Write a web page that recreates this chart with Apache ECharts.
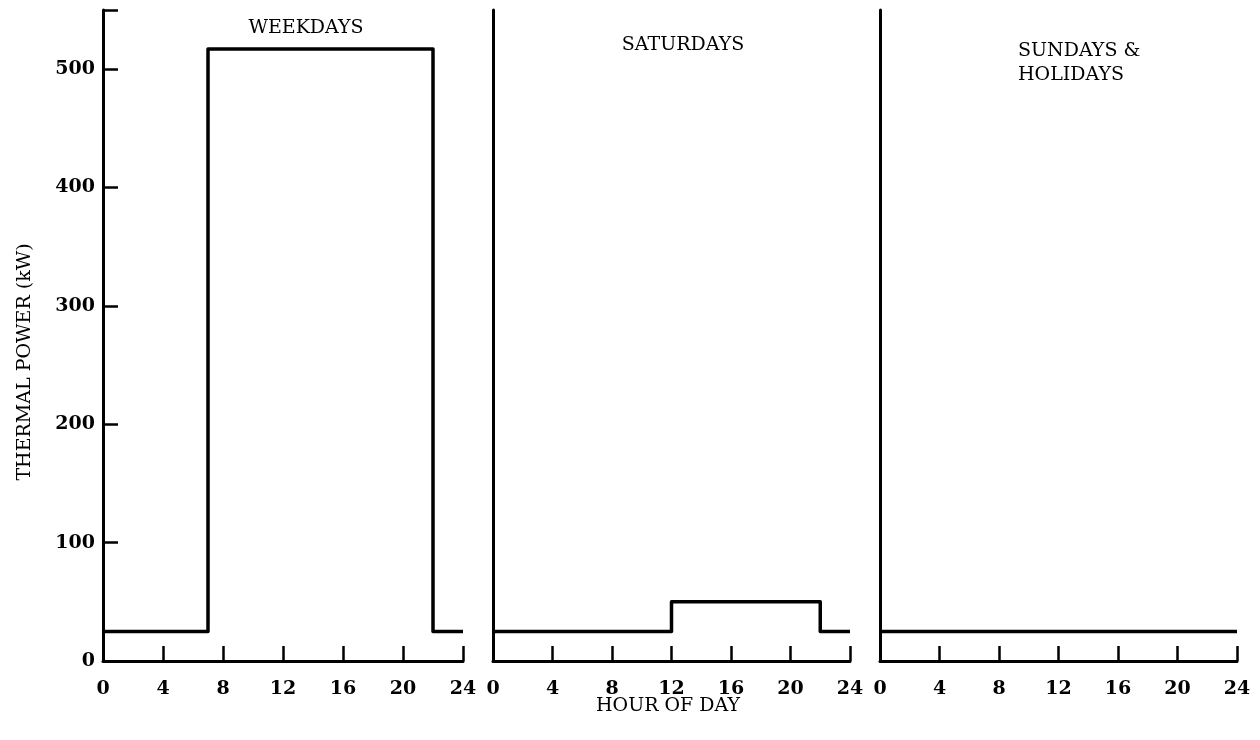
<!DOCTYPE html>
<html><head><meta charset="utf-8">
<script src="https://cdn.jsdelivr.net/npm/echarts@6/dist/echarts.min.js"></script>
<style>html,body{margin:0;padding:0;background:#fff}#c{width:1260px;height:740px}</style>
</head><body><div id="c"></div>
<script>
// Data (hour of day, thermal power kW) – vertices of step profiles
const weekdayHours = [0, 7, 7, 22, 22, 24];
const weekdayPower = [25, 25, 517, 517, 25, 25];
const saturdayHours = [0, 12, 12, 22, 22, 24];
const saturdayPower = [25, 25, 50, 50, 25, 25];
const sundayHours = [0, 24];
const sundayPower = [25, 25];
const panelTitles = ['WEEKDAYS', 'SATURDAYS', 'SUNDAYS &\nHOLIDAYS'];
const xTicks = [0, 4, 8, 12, 16, 20, 24];
const yTicks = [0, 100, 200, 300, 400, 500];
const xLabel = 'HOUR OF DAY';
const yLabel = 'THERMAL POWER (kW)';

const FONT = 'DejaVu Serif';
const pairs = (xs, ys) => xs.map((x, i) => [x, ys[i]]);

const grids = [
  {left: 103, top: 10, width: 360, height: 651},
  {left: 493, top: 10, width: 357, height: 651},
  {left: 880, top: 10, width: 357, height: 651}
];

const xAxes = grids.map((g, i) => ({
  type: 'value', gridIndex: i, min: xTicks[0], max: xTicks[xTicks.length - 1],
  interval: xTicks[1] - xTicks[0],
  axisLine: {show: true, onZero: false, lineStyle: {color: '#000', width: 3}},
  axisTick: {show: true, inside: true, length: 15, lineStyle: {color: '#000', width: 2.5}},
  axisLabel: {show: true, color: '#000', fontFamily: FONT, fontWeight: 'bold', fontSize: 19, margin: 19,
              showMinLabel: true, showMaxLabel: true},
  splitLine: {show: false}
}));

const yAxes = grids.map((g, i) => ({
  type: 'value', gridIndex: i, min: 0, max: 550, interval: yTicks[1] - yTicks[0],
  axisLine: {show: true, lineStyle: {color: '#000', width: 3}},
  axisTick: {show: i === 0, inside: true, length: 15, lineStyle: {color: '#000', width: 2.5}},
  axisLabel: {show: i === 0, color: '#000', fontFamily: FONT, fontWeight: 'bold', fontSize: 19, margin: 8,
              formatter: v => (yTicks.indexOf(v) >= 0 ? String(v) : '')},
  splitLine: {show: false}
}));

const lineStyle = {color: '#000', width: 3.5, join: 'round'};
const series = [
  pairs(weekdayHours, weekdayPower),
  pairs(saturdayHours, saturdayPower),
  pairs(sundayHours, sundayPower)
].map((d, i) => ({
  type: 'line', xAxisIndex: i, yAxisIndex: i, data: d, symbol: 'none',
  lineStyle: lineStyle, animation: false, silent: true
}));

const txt = {fill: '#000', font: '19px "' + FONT + '"'};
const graphic = [
  {type: 'text', x: 306, y: 28, style: Object.assign({text: panelTitles[0], textAlign: 'center', textVerticalAlign: 'middle'}, txt)},
  {type: 'text', x: 683, y: 45, style: Object.assign({text: panelTitles[1], textAlign: 'center', textVerticalAlign: 'middle'}, txt)},
  {type: 'text', x: 1018, y: 39, style: Object.assign({text: panelTitles[2], textAlign: 'left', textVerticalAlign: 'top', lineHeight: 24}, txt)},
  {type: 'text', x: 668, y: 706, style: Object.assign({text: xLabel, textAlign: 'center', textVerticalAlign: 'middle'}, txt)},
  {type: 'text', x: 25, y: 362, rotation: Math.PI / 2, style: Object.assign({text: yLabel, textAlign: 'center', textVerticalAlign: 'middle'}, txt)}
];

const chart = echarts.init(document.getElementById('c'), null, {renderer: 'canvas'});
chart.setOption({
  animation: false,
  backgroundColor: '#fff',
  grid: grids,
  xAxis: xAxes,
  yAxis: yAxes,
  series: series,
  graphic: graphic
});
</script></body></html>
